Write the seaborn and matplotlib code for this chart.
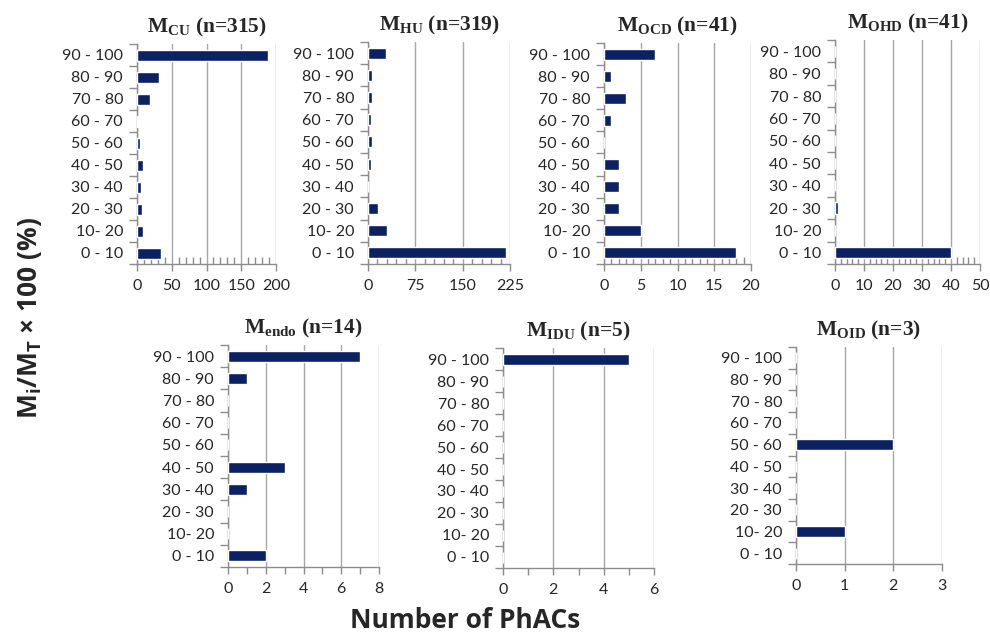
import matplotlib
matplotlib.use('Agg')
import matplotlib.pyplot as plt
import seaborn as sns
import pandas as pd
from matplotlib.ticker import MultipleLocator

sns.set_theme(style='white')
plt.rcParams['font.family'] = ['Lato', 'DejaVu Sans']
plt.rcParams['mathtext.fontset'] = 'custom'
plt.rcParams['mathtext.bf'] = 'Liberation Serif:bold'
plt.rcParams['mathtext.rm'] = 'Liberation Serif:bold'
plt.rcParams['mathtext.sf'] = 'Open Sans:bold'

# 데이터 ---------------------------------------------------------------
categories = ['90 - 100', '80 - 90', '70 - 80', '60 - 70', '50 - 60',
              '40 - 50', '30 - 40', '20 - 30', '10- 20', '0 - 10']

m_cu = [188, 31, 18, 2, 5, 8, 6, 7, 9, 35]
m_hu = [29, 7, 6, 4, 6, 4, 0, 16, 30, 218]
m_ocd = [7, 1, 3, 1, 0, 2, 2, 2, 5, 18]
m_ohd = [0, 0, 0, 0, 0, 0, 0, 1, 0, 40]
m_endo = [7, 1, 0, 0, 0, 3, 1, 0, 0, 2]
m_idu = [5, 0, 0, 0, 0, 0, 0, 0, 0, 0]
m_oid = [0, 0, 0, 0, 2, 0, 0, 0, 1, 0]

titles = [r'$\mathbf{M_{CU}}$ (n=315)', r'$\mathbf{M_{HU}}$ (n=319)',
          r'$\mathbf{M_{OCD}}$ (n=41)', r'$\mathbf{M_{OHD}}$ (n=41)',
          r'$\mathbf{M_{endo}}$ (n=14)', r'$\mathbf{M_{IDU}}$ (n=5)',
          r'$\mathbf{M_{OID}}$ (n=3)']
series = [m_cu, m_hu, m_ocd, m_ohd, m_endo, m_idu, m_oid]
# -----------------------------------------------------------------------

# 패널 설정: (left, top, right, bottom 픽셀), xmax, major, minor, minor 방향
W, H = 990, 636
panels = [
    ((137, 44, 276, 264), 200, 50, 10, 'in'),
    ((368, 42, 510, 264), 225, 75, 15, 'in'),
    ((604, 43, 751, 264), 20, 5, 1, 'in'),
    ((835, 40, 980, 264), 50, 10, 2, 'in'),
    ((228, 345, 379, 567), 8, 2, 1, 'out'),
    ((503, 348, 654, 568), 6, 2, 1, 'out'),
    ((796, 347, 942, 564), 3, 1, None, 'out'),
]

bar_color = '#0b2162'
grey = '#8c8c8c'

fig = plt.figure(figsize=(W / 100, H / 100), dpi=100)

for (box, xmax, major, minor, mdir), vals, title in zip(panels, series, titles):
    l, t, r, b = box
    ax = fig.add_axes([l / W, 1 - b / H, (r - l) / W, (b - t) / H])
    df = pd.DataFrame({'cat': categories, 'n': vals})
    sns.barplot(data=df, y='cat', x='n', order=categories, color=bar_color,
                saturation=1, width=0.5, ax=ax, zorder=3)
    ax.set_xlim(0, xmax)
    ax.set_ylim(9.5, -0.5)
    ax.set_xlabel('')
    ax.set_ylabel('')
    ax.xaxis.set_major_locator(MultipleLocator(major))
    if minor:
        ax.xaxis.set_minor_locator(MultipleLocator(minor))
    ax.set_yticks(range(len(categories)))
    ax.set_yticks([i - 0.5 for i in range(len(categories) + 1)], minor=True)
    ax.tick_params(axis='y', which='major', left=False, length=0, labelsize=11.5, pad=10)
    ax.tick_params(axis='y', which='minor', left=True, length=6, direction='out',
                   color=grey, width=1)
    ax.tick_params(axis='x', which='major', bottom=True, length=5, direction='out',
                   color=grey, labelsize=11.5, pad=6, width=1)
    ax.tick_params(axis='x', which='minor', bottom=True, length=5, direction=mdir,
                   color=grey, width=1)
    ax.grid(axis='x', which='major', color='#a6a6a6', lw=1, zorder=0)
    ax.grid(axis='y', visible=False)
    for s in ['top', 'right']:
        ax.spines[s].set_visible(False)
    for s in ['left', 'bottom']:
        ax.spines[s].set_color(grey)
        ax.spines[s].set_linewidth(1)
    ax.set_title(title, fontsize=15.5, fontweight='bold', family='Liberation Serif', pad=8)

fig.text(0.030, 0.5, r'M$_\mathsf{i}$/M$_\mathsf{T}$ × 100 (%)', rotation=90,
         ha='center', va='center', fontsize=19, fontweight='bold', family='Open Sans')
fig.text(0.47, 0.025, 'Number of PhACs', ha='center', va='center',
         fontsize=19, fontweight='bold', family='Open Sans')

fig.savefig('out.png', dpi=100)
